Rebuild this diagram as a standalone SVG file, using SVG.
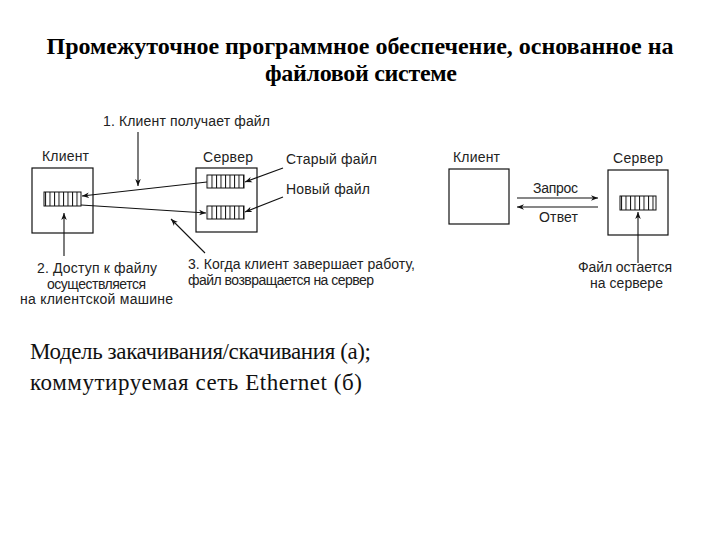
<svg xmlns="http://www.w3.org/2000/svg" width="720" height="540" viewBox="0 0 720 540">
<defs>
<marker id="ah" viewBox="0 0 10 10" refX="10" refY="5" markerWidth="7" markerHeight="7" orient="auto" markerUnits="userSpaceOnUse">
<path d="M0,1 L10,5 L0,9 L3,5 Z" fill="#111"/>
</marker>
<pattern id="stripes" x="0" y="0" width="4.5" height="10" patternUnits="userSpaceOnUse">
<line x1="0.5" y1="0" x2="0.5" y2="10" stroke="#111" stroke-width="1"/>
</pattern>
</defs>
<style>
.title{font-family:"Liberation Serif","Times New Roman",serif;font-weight:bold;font-size:24px;fill:#000;text-anchor:middle}
.cap{font-family:"Liberation Serif","Times New Roman",serif;font-size:23px;fill:#111}
.lbl{font-family:"Liberation Sans",Arial,sans-serif;font-size:14px;fill:#222}
.mid{text-anchor:middle}
.box{fill:#fff;stroke:#111;stroke-width:1.2}
.file{fill:#fff;stroke:#111;stroke-width:1}
.ln{stroke:#111;stroke-width:1.1;fill:none}
</style>
<rect width="720" height="540" fill="#fff"/>
<g id="title">
<text class="title" x="360" y="54" textLength="627">Промежуточное программное обеспечение, основанное на</text>
<text class="title" x="361" y="81" textLength="192">файловой системе</text>
</g>

<g id="client-a">
<text class="lbl mid" x="65.5" y="161" textLength="47">Клиент</text>
<rect class="box" x="32" y="168" width="61" height="65"/>
<rect class="file" x="44" y="192" width="37" height="14"/>
<rect x="45" y="192" width="36" height="14" fill="url(#stripes)"/>
</g>
<g id="server-a">
<text class="lbl mid" x="228" y="162" textLength="50">Сервер</text>
<rect class="box" x="196" y="168" width="61" height="64"/>
<rect class="file" x="207" y="175" width="37" height="13"/>
<rect x="208" y="175" width="36" height="13" fill="url(#stripes)"/>
<rect class="file" x="207" y="206" width="37" height="13"/>
<rect x="208" y="206" width="36" height="13" fill="url(#stripes)"/>
</g>
<g id="labels-a">
<text class="lbl" x="103" y="126" textLength="167">1. Клиент получает файл</text>
<text class="lbl" x="286" y="164" textLength="91">Старый файл</text>
<text class="lbl" x="286" y="194" textLength="84">Новый файл</text>
<text class="lbl mid" x="97" y="273" textLength="120">2. Доступ к файлу</text>
<text class="lbl mid" x="96.5" y="289" textLength="99">осуществляется</text>
<text class="lbl mid" x="96.5" y="304" textLength="153">на клиентской машине</text>
<text class="lbl" x="188" y="269" textLength="227">3. Когда клиент завершает работу,</text>
<text class="lbl" x="188" y="285" textLength="186">файл возвращается на сервер</text>
</g>

<g id="client-b">
<text class="lbl mid" x="476.5" y="162" textLength="47">Клиент</text>
<rect class="box" x="449" y="169" width="60" height="55"/>
</g>
<g id="server-b">
<text class="lbl mid" x="638" y="163" textLength="50">Сервер</text>
<rect class="box" x="608" y="170" width="60" height="65"/>
<rect class="file" x="620" y="196" width="36" height="14"/>
<rect x="621" y="196" width="35" height="14" fill="url(#stripes)"/>
</g>
<g id="labels-b">
<text class="lbl mid" x="555.5" y="193" textLength="45">Запрос</text>
<text class="lbl mid" x="558.5" y="222" textLength="39">Ответ</text>
<text class="lbl mid" x="625" y="272" textLength="94">Файл остается</text>
<text class="lbl mid" x="626.5" y="288" textLength="73">на сервере</text>
</g>

<g id="connectors">
<line class="ln" x1="138" y1="132" x2="138" y2="186" marker-end="url(#ah)"/>
<line class="ln" x1="207" y1="182" x2="82" y2="196" marker-end="url(#ah)"/>
<line class="ln" x1="81" y1="205" x2="206" y2="213" marker-end="url(#ah)"/>
<line class="ln" x1="64" y1="256" x2="64" y2="213" marker-end="url(#ah)"/>
<line class="ln" x1="205" y1="253" x2="171" y2="219" marker-end="url(#ah)"/>
<line class="ln" x1="283" y1="168" x2="245" y2="182" marker-end="url(#ah)"/>
<line class="ln" x1="283" y1="197" x2="245" y2="212" marker-end="url(#ah)"/>
<line class="ln" x1="517" y1="198" x2="598" y2="198" marker-end="url(#ah)"/>
<line class="ln" x1="598" y1="207" x2="517" y2="207" marker-end="url(#ah)"/>
<line class="ln" x1="638" y1="263" x2="638" y2="212" marker-end="url(#ah)"/>
</g>

<g id="caption">
<text class="cap" x="30" y="359" textLength="341">Модель закачивания/скачивания (а);</text>
<text class="cap" x="30" y="390" textLength="332">коммутируемая сеть Ethernet (б)</text>
</g>
</svg>
